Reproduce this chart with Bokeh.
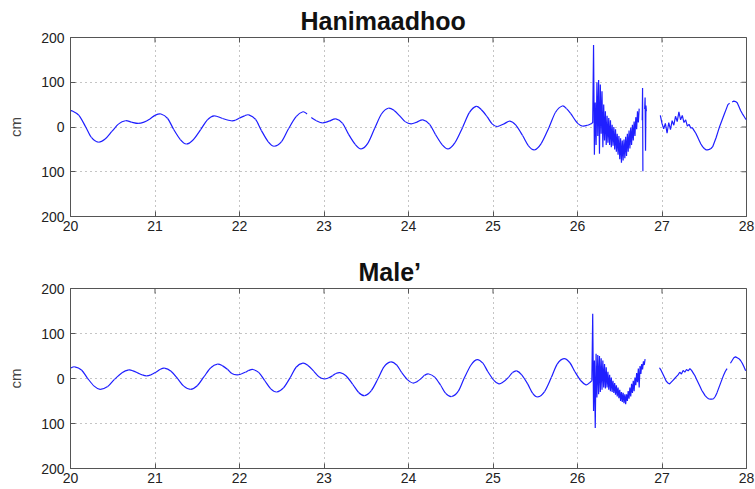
import numpy as np
from bokeh.plotting import figure
from bokeh.layouts import column
from bokeh.models import Range1d, FixedTicker
from bokeh.embed import file_html
from bokeh.resources import INLINE

# ---------------- data ----------------
titles = ["Hanimaadhoo", "Male\u2019"]
y_label = "cm"
x_ticks = [20, 21, 22, 23, 24, 25, 26, 27, 28]
y_ticks = [-200, -100, 0, 100, 200]
y_tick_labels = ["200", "100", "0", "100", "200"]

# Hanimaadhoo: (day, cm)
han_seg1 = [(20.00, 35), (20.02, 36), (20.10, 26), (20.18, 0), (20.25, -24), (20.33, -34),
            (20.41, -27), (20.49, -10), (20.57, 7), (20.65, 14), (20.72, 11), (20.80, 8),
            (20.87, 11), (20.94, 18), (21.00, 26), (21.07, 29), (21.15, 19), (21.22, -5),
            (21.30, -28), (21.37, -38), (21.45, -29), (21.54, -6), (21.62, 16), (21.70, 25),
            (21.80, 19), (21.90, 14), (21.95, 15), (22.00, 20), (22.06, 25), (22.11, 27),
            (22.19, 17), (22.26, -8), (22.34, -33), (22.41, -43), (22.50, -32), (22.58, -4),
            (22.67, 23), (22.75, 34), (22.80, 29)]
han_seg2 = [(22.85, 21), (22.91, 14), (22.98, 9), (23.06, 13), (23.14, 18), (23.22, 8),
            (23.29, -16), (23.37, -39), (23.44, -49), (23.52, -36), (23.60, -3), (23.68, 29),
            (23.76, 42), (23.83, 37), (23.90, 24), (23.96, 12), (24.03, 7), (24.10, 11),
            (24.17, 16), (24.25, 6), (24.32, -17), (24.40, -40), (24.47, -49), (24.55, -35),
            (24.64, -1), (24.72, 32), (24.80, 46), (24.86, 39), (24.93, 23), (24.99, 7),
            (25.05, 1), (25.13, 7), (25.20, 13), (25.27, 4), (25.35, -19), (25.42, -42),
            (25.49, -51), (25.57, -37), (25.66, -2), (25.74, 33), (25.82, 47), (25.87, 41),
            (25.92, 30), (25.97, 16), (26.01, 7), (26.06, 2), (26.12, 4), (26.17, 8)]
han_tsunami_start = 26.18
han_tsunami_step = 0.01
han_tsunami = [10, 183, -62, 55, -40, 100, -20, 105, -60, 95, -15, 80, -45, 50, -30,
               35, -40, 25, -35, 20, -40, 15, -45, 5, -42, 0, -50, -5, -55, -15,
               -62, -20, -72, -25, -80, -30, -75, -28, -70, -22, -65, -15, -55, -8, -48,
               -2, -40, 5, -30, 12, -20, 22, -5, 35, 10, 41]
han_spike1 = [(26.766, 15), (26.770, 87), (26.774, -99)]
han_spike2 = [(26.795, 40), (26.800, 66), (26.805, -53), (26.810, 48), (26.815, 35)]
han_after_start = 26.98
han_after_step = 0.02
han_after = [26, 8, -4, 8, -14, 10, -6, 14, 4, 24, 12, 34, 16, 26, 10, 16, 2, 6, -2, -2,
             -8, -14, -22, -30, -38, -44, -48, -51, -51, -50, -48, -44, -34, -24, -12, 0,
             10, 20, 30, 40, 50, 53]
han_end = [(27.83, 56), (27.85, 58), (27.87, 57), (27.89, 54), (27.91, 46), (27.93, 37),
           (27.95, 30), (27.97, 24), (27.99, 18), (28.00, 16)]

# Male': (day, cm)
male_seg1 = [(20.00, 23), (20.05, 26), (20.13, 19), (20.20, 1), (20.28, -17), (20.35, -24),
             (20.44, -18), (20.52, -2), (20.61, 13), (20.69, 19), (20.74, 17), (20.80, 12),
             (20.85, 8), (20.90, 6), (20.95, 8), (21.01, 14), (21.06, 20), (21.11, 23),
             (21.19, 16), (21.27, -1), (21.34, -17), (21.42, -24), (21.50, -16), (21.58, 4),
             (21.66, 24), (21.74, 32), (21.80, 28), (21.86, 20), (21.91, 11), (21.97, 8),
             (22.02, 10), (22.07, 14), (22.11, 18), (22.16, 20), (22.23, 13), (22.30, -5),
             (22.37, -23), (22.44, -30), (22.52, -21), (22.60, 2), (22.67, 25), (22.75, 34),
             (22.81, 29), (22.88, 16), (22.94, 4), (23.00, -1), (23.05, 1), (23.10, 6),
             (23.14, 11), (23.19, 13), (23.26, 6), (23.34, -13), (23.41, -31), (23.48, -38),
             (23.56, -27), (23.64, 0), (23.71, 26), (23.79, 37), (23.86, 30), (23.92, 13),
             (23.99, -3), (24.05, -10), (24.10, -7), (24.15, 0), (24.19, 7), (24.24, 10),
             (24.31, 3), (24.38, -15), (24.44, -33), (24.51, -40), (24.59, -28), (24.66, 1),
             (24.74, 30), (24.81, 42), (24.88, 34), (24.94, 15), (25.01, -4), (25.07, -12),
             (25.12, -8), (25.18, 2), (25.23, 13), (25.28, 17), (25.34, 8), (25.41, -12),
             (25.47, -33), (25.53, -41), (25.61, -29), (25.69, 2), (25.76, 32), (25.84, 44),
             (25.91, 35), (25.97, 15), (26.04, -5), (26.10, -14), (26.14, -10), (26.17, -5)]
male_tsunami_start = 26.18
male_tsunami_step = 0.01
male_tsunami = [144, -72, 40, -110, 55, -42, 52, -35, 50, -30, 45, -25, 40, -20, 32,
                -22, 25, -20, 15, -25, 8, -28, 2, -30, -5, -32, -10, -36, -15, -40,
                -20, -44, -25, -50, -30, -52, -32, -55, -35, -57, -35, -50, -28, -45, -20,
                -40, -12, -32, -5, -28, 2, -15, 12, -8, 22, -20, 28, 10, 32, 20,
                38, 30, 43]
male_after_start = 26.97
male_after_step = 0.02
male_after = [24, 18, 10, 2, -6, -10, -12, -8, -4, 0, 4, 8, 14, 10, 18, 14, 20, 17, 22, 18,
              12, 6, -2, -10, -18, -26, -32, -38, -42, -45, -46, -46, -45, -40, -32, -22,
              -12, -2, 8, 16, 22]
male_end = [(27.81, 34), (27.83, 40), (27.85, 46), (27.87, 48), (27.89, 46), (27.91, 44),
            (27.93, 40), (27.95, 34), (27.97, 26), (27.99, 17)]


def pairs(seg):
    return [p[0] for p in seg], [p[1] for p in seg]


def regular(start, step, vals, lead=None):
    xs = list(start + step * np.arange(len(vals)))
    ys = list(vals)
    if lead is not None:          # connect to the last point of the preceding segment
        xs = [lead[0]] + xs
        ys = [lead[1]] + ys
    return xs, ys


def join(*segs):
    xs, ys = [], []
    for i, (sx, sy) in enumerate(segs):
        if i:
            xs.append(np.nan)
            ys.append(np.nan)
        xs += list(sx)
        ys += list(sy)
    return np.array(xs, dtype=float), np.array(ys, dtype=float)


def smooth(seg):
    """Catmull-Rom control points so Bokeh draws a smooth curve through the read points."""
    x = np.array([p[0] for p in seg], dtype=float)
    y = np.array([p[1] for p in seg], dtype=float)
    xp = np.concatenate([[x[0]], x, [x[-1]]])
    yp = np.concatenate([[y[0]], y, [y[-1]]])
    n = len(x) - 1
    d = dict(x0=x[:-1], y0=y[:-1], x1=x[1:], y1=y[1:])
    d["cx0"] = x[:-1] + (xp[2:n + 2] - xp[0:n]) / 6.0
    d["cy0"] = y[:-1] + (yp[2:n + 2] - yp[0:n]) / 6.0
    d["cx1"] = x[1:] - (xp[3:n + 3] - xp[1:n + 1]) / 6.0
    d["cy1"] = y[1:] - (yp[3:n + 3] - yp[1:n + 1]) / 6.0
    return d


han_curves = [smooth(han_seg1), smooth(han_seg2)]
han_x, han_y = join(
    regular(han_tsunami_start, han_tsunami_step, han_tsunami, lead=han_seg2[-1]),
    pairs(han_spike1),
    pairs(han_spike2),
    regular(han_after_start, han_after_step, han_after),
    pairs(han_end),
)
male_curves = [smooth(male_seg1)]
male_x, male_y = join(
    regular(male_tsunami_start, male_tsunami_step, male_tsunami, lead=male_seg1[-1]),
    regular(male_after_start, male_after_step, male_after),
    pairs(male_end),
)

FONT = "Liberation Sans"
AX = "#555555"
LINE = "#1f1fff"


def panel(title, curves, xs, ys, height, border_top, border_bottom, title_offset):
    p = figure(width=755, height=height, output_backend="svg", toolbar_location=None,
               x_range=Range1d(x_ticks[0], x_ticks[-1]),
               y_range=Range1d(y_ticks[0], y_ticks[-1]),
               min_border_left=70, min_border_right=9,
               min_border_top=border_top, min_border_bottom=border_bottom)
    p.title.text = title
    p.title.align = "left"
    p.title.offset = title_offset
    p.title.text_font = FONT
    p.title.text_font_size = "25px"
    p.title.text_font_style = "bold"
    p.title.text_color = "#111111"
    p.title.standoff = 6

    for c in curves:
        p.bezier(x0=c["x0"], y0=c["y0"], x1=c["x1"], y1=c["y1"],
                 cx0=c["cx0"], cy0=c["cy0"], cx1=c["cx1"], cy1=c["cy1"],
                 line_color=LINE, line_width=1.2)
    p.line(xs, ys, line_color=LINE, line_width=1.2)

    p.xaxis.ticker = FixedTicker(ticks=x_ticks)
    p.yaxis.ticker = FixedTicker(ticks=y_ticks)
    p.yaxis.major_label_overrides = {t: l for t, l in zip(y_ticks, y_tick_labels)}
    p.yaxis.axis_label = y_label
    p.yaxis.axis_label_text_font_style = "normal"
    p.yaxis.axis_label_text_font_size = "15px"
    p.yaxis.axis_label_text_font = FONT
    p.yaxis.axis_label_standoff = 14
    for ax in (p.xaxis[0], p.yaxis[0]):
        ax.major_label_text_font = FONT
        ax.major_label_text_font_size = "14px"
        ax.major_label_text_color = "#222222"
        ax.major_tick_in = 5
        ax.major_tick_out = 0
        ax.minor_tick_line_color = None
        ax.major_tick_line_color = AX
        ax.axis_line_color = AX
        ax.major_label_standoff = 4
    p.yaxis.major_label_standoff = 6

    # inward tick marks on the top and right edges (clipped to the frame)
    p.scatter(x=x_ticks, y=[y_ticks[-1]] * len(x_ticks), marker="dash", angle=np.pi / 2,
              size=10, line_color=AX, line_width=1)
    p.scatter(x=[x_ticks[-1]] * len(y_ticks), y=y_ticks, marker="dash",
              size=10, line_color=AX, line_width=1)

    p.xgrid.grid_line_color = "#8a8a8a"
    p.ygrid.grid_line_color = "#8a8a8a"
    p.xgrid.grid_line_dash = "1 4"
    p.ygrid.grid_line_dash = "1 4"
    p.outline_line_color = AX
    p.outline_line_width = 1
    p.background_fill_color = "white"
    p.border_fill_color = "white"
    return p


p1 = panel(titles[0], han_curves, han_x, han_y, 245, 37, 29, 230)
p2 = panel(titles[1], male_curves, male_x, male_y, 244, 43, 21, 288)
layout = column(p1, p2, spacing=0)

open("out.html", "w").write(file_html(layout, INLINE))
